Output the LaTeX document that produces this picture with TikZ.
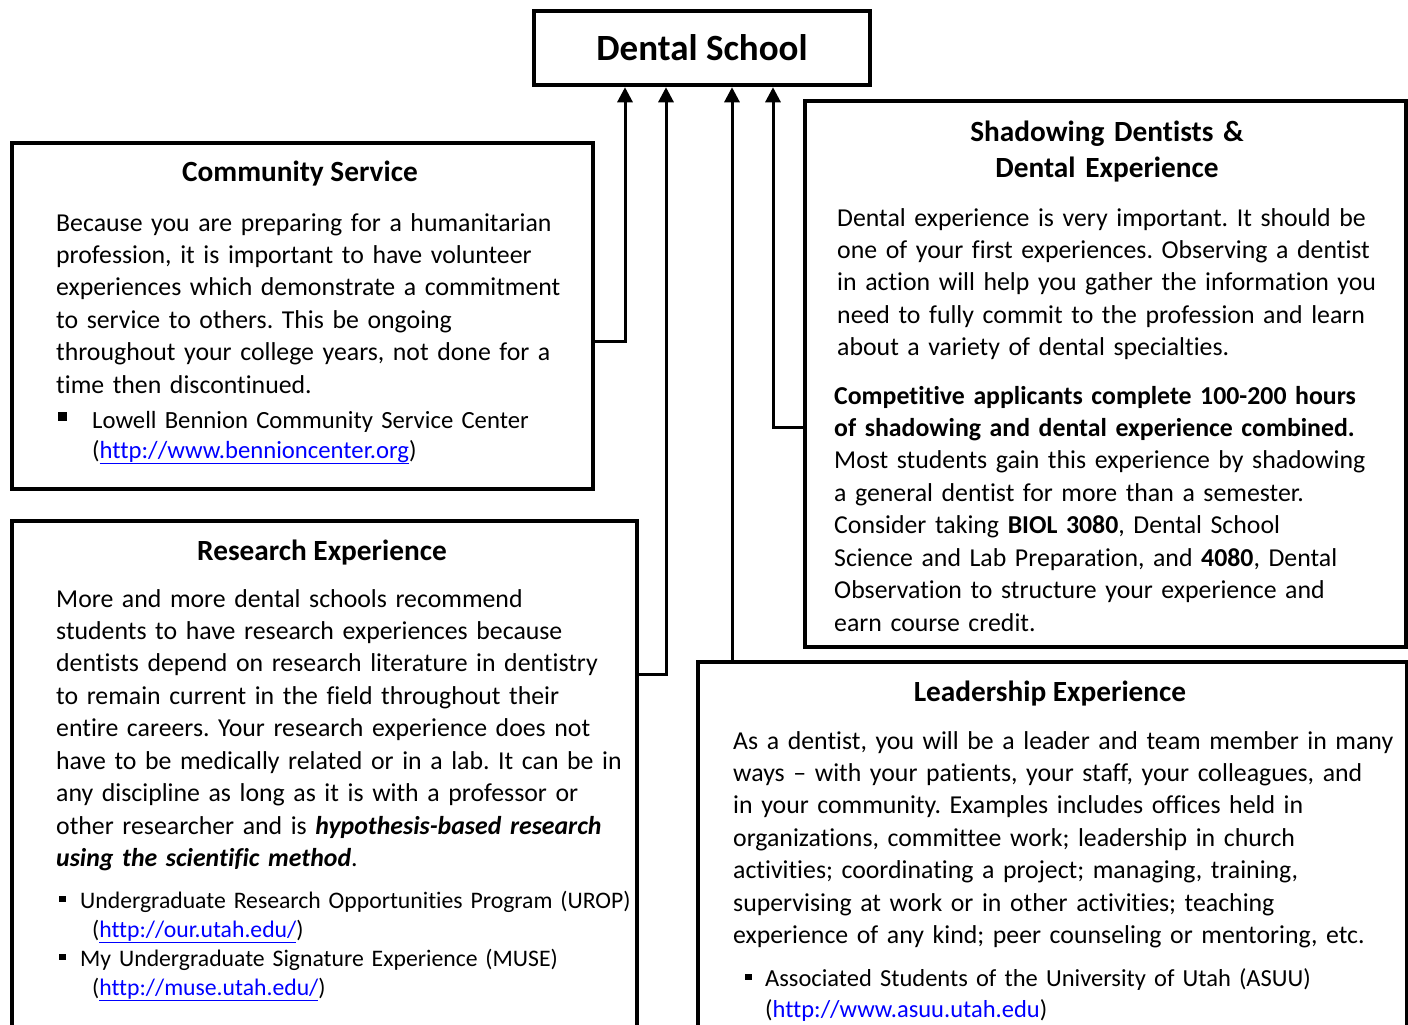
\documentclass[tikz,border=0pt]{standalone}
\usepackage{fontspec}
\setmainfont{Carlito}[Ligatures=NoCommon]
\usetikzlibrary{arrows.meta,positioning}
\definecolor{linkblue}{RGB}{0,0,255}
\newcommand{\weblink}[1]{\textcolor{linkblue}{\underline{#1}}}
\newcommand{\sqdot}[2]{\rule[#2]{#1}{#1}}
\frenchspacing

\begin{document}
\begin{tikzpicture}[x=1pt,y=-1pt,
    box/.style={draw,line width=3.5pt,anchor=north west},
    mainbox/.style={draw,line width=4.5pt,minimum width=336pt,minimum height=74pt,font=\bfseries\fontsize{37}{44}\selectfont},
    heading/.style={anchor=base,font=\bfseries\fontsize{29.3}{36}\selectfont},
    para/.style={anchor=base west,align=left,text width=720pt,font=\fontsize{25.8}{32.45}\selectfont},
    item/.style 2 args={anchor=base west,align=left,text width=720pt,font=\fontsize{#1}{#2}\selectfont},
    link/.style={line width=3pt,-{Triangle[width=15pt,length=15pt]}}]
  \tikzstyle{every node}+=[inner sep=0pt]
  \useasboundingbox (0,0) rectangle (1408,1025);
  \clip (0,0) rectangle (1408,1025);

  \node[mainbox] (school) at (702,48) {Dental School};

  \node[box,minimum width=581pt,minimum height=346pt] (community) at (10,141) {};
  \node[heading] (commtitle) at (300,181) {Community Service};
  \node[para] (commtext) at (56,231) {Because you are preparing for a humanitarian\\
    profession, it is important to have volunteer\\
    experiences which demonstrate a commitment\\
    to service to others. This be ongoing\\
    throughout your college years, not done for a\\
    time then discontinued.};
  \node[item={24.7}{30}] (commitem) at (58,428) {\makebox[34pt][l]{\sqdot{9pt}{7pt}}Lowell Bennion Community Service Center\\
    \hspace*{34pt}(\weblink{http://www.bennioncenter.org})};

  \node[box,minimum width=625pt,minimum height=560pt] (research) at (10,519) {};
  \node[heading] (restitle) at (322,560) {Research Experience};
  \node[para] (restext) at (56,607) {More and more dental schools recommend\\
    students to have research experiences because\\
    dentists depend on research literature in dentistry\\
    to remain current in the field throughout their\\
    entire careers. Your research experience does not\\
    have to be medically related or in a lab. It can be in\\
    any discipline as long as it is with a professor or\\
    other researcher and is \textbf{\textit{hypothesis-based research}}\\
    \textbf{\textit{using the scientific method}}.};
  \node[item={23.7}{29}] (resitema) at (59,908) {\makebox[21pt][l]{\sqdot{6.5pt}{6pt}}Undergraduate Research Opportunities Program (UROP)\\
    \hspace*{33pt}(\weblink{http://our.utah.edu/})};
  \node[item={23.7}{29}] (resitemb) at (59,966) {\makebox[21pt][l]{\sqdot{6.5pt}{6pt}}My Undergraduate Signature Experience (MUSE)\\
    \hspace*{33pt}(\weblink{http://muse.utah.edu/})};

  \node[box,minimum width=601pt,minimum height=546pt] (shadow) at (803,99) {};
  \node[heading,align=center,text width=500pt] (shadtitle) at (1107,141) {Shadowing Dentists \&\\Dental Experience};
  \node[para] (shadtexta) at (837,226) {Dental experience is very important. It should be\\
    one of your first experiences. Observing a dentist\\
    in action will help you gather the information you\\
    need to fully commit to the profession and learn\\
    about a variety of dental specialties.};
  \node[para] (shadtextb) at (834,404) {\textbf{Competitive applicants complete 100-200 hours}\\
    \textbf{of shadowing and dental experience combined.}\\
    Most students gain this experience by shadowing\\
    a general dentist for more than a semester.\\
    Consider taking \textbf{BIOL 3080}, Dental School\\
    Science and Lab Preparation, and \textbf{4080}, Dental\\
    Observation to structure your experience and\\
    earn course credit.};

  \node[box,minimum width=709pt,minimum height=420pt] (leader) at (696,660) {};
  \node[heading] (leadtitle) at (1050,701) {Leadership Experience};
  \node[para] (leadtext) at (733,749) {As a dentist, you will be a leader and team member in many\\
    ways – with your patients, your staff, your colleagues, and\\
    in your community. Examples includes offices held in\\
    organizations, committee work; leadership in church\\
    activities; coordinating a project; managing, training,\\
    supervising at work or in other activities; teaching\\
    experience of any kind; peer counseling or mentoring, etc.};
  \node[item={24.5}{31}] (leaditem) at (745,986) {\makebox[20pt][l]{\sqdot{6.5pt}{6pt}}Associated Students of the University of Utah (ASUU)\\
    \hspace*{20pt}(\textcolor{linkblue}{http://www.asuu.utah.edu})};

  \draw[link] (community.east |- 0,341) -| ([xshift=-77pt]school.south);
  \draw[link] (research.east |- 0,674) -| ([xshift=-36pt]school.south);
  \draw[link] (leader.north -| 732,0) -- ([xshift=30pt]school.south);
  \draw[link] (shadow.west |- 0,427) -| ([xshift=71pt]school.south);
\end{tikzpicture}
\end{document}
